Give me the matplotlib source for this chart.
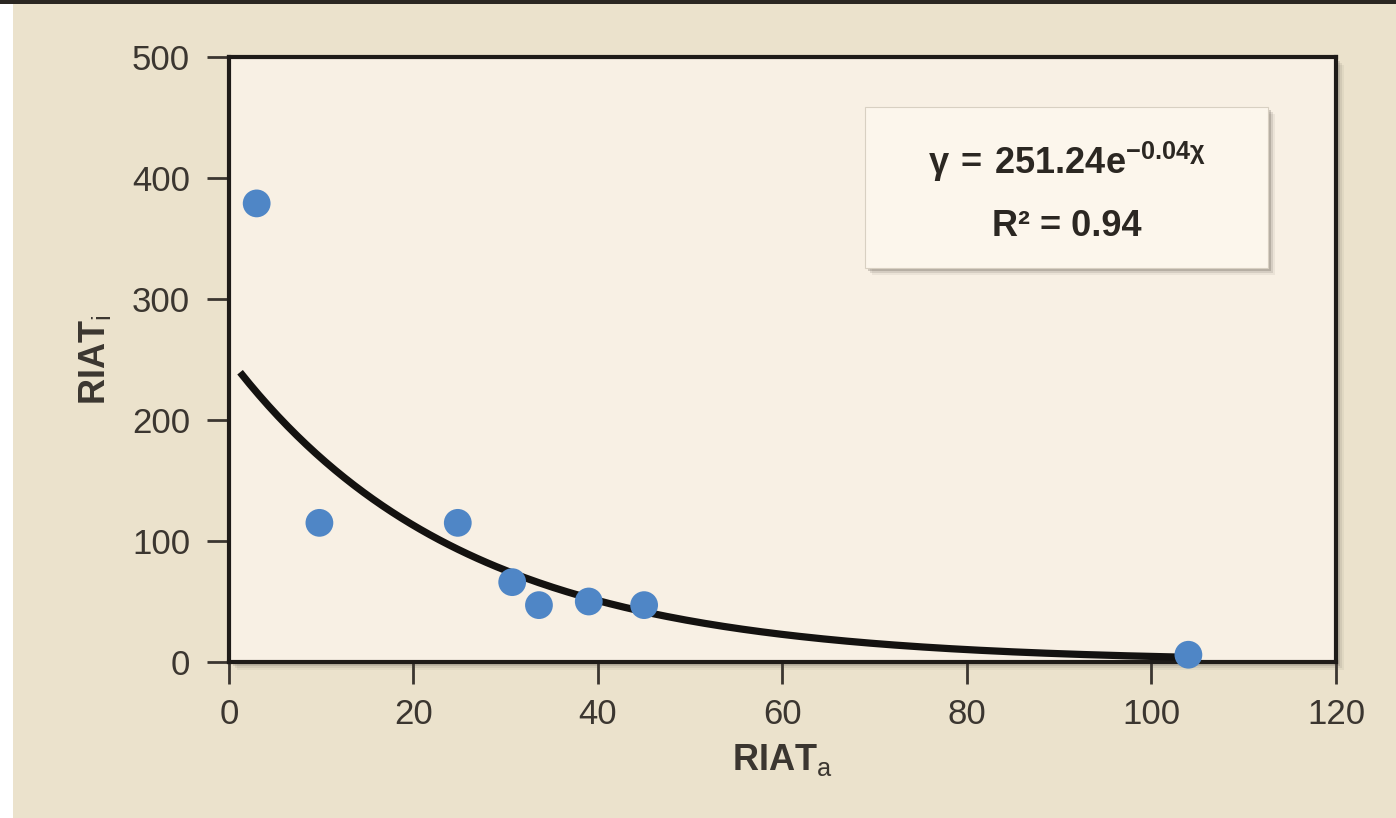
import numpy as np
import matplotlib
matplotlib.use("Agg")
import matplotlib.pyplot as plt
from matplotlib.patches import Rectangle

plt.rcParams['font.family'] = ['Liberation Sans', 'DejaVu Sans']
plt.rcParams['mathtext.fontset'] = 'custom'
plt.rcParams['mathtext.rm'] = 'Liberation Sans'
plt.rcParams['mathtext.it'] = 'Liberation Sans'
plt.rcParams['mathtext.bf'] = 'Liberation Sans:bold'

# data
riat_a = [3.0, 9.8, 24.8, 30.7, 33.6, 39.0, 45.0, 104.0]
riat_i = [379, 115, 115, 66, 47, 50, 47, 6]
# exponential fit shown in the box
fit_a, fit_b = 251.24, -0.04
fit_x0, fit_x1 = 1.2, 103.5

BG = "#ebe2cc"
PLOT_BG = "#f8f0e4"
DOT = "#4f86c6"
TXT = "#3b3630"

fig = plt.figure(figsize=(13.96, 8.18), dpi=100, facecolor=BG)
# white strip on the left and dark rule along the top
fig.patches.append(Rectangle((0, 0), 13/1396, 1, transform=fig.transFigure,
                             facecolor="white", edgecolor="none", zorder=0))
fig.patches.append(Rectangle((0, 1 - 4/818), 1, 4/818, transform=fig.transFigure,
                             facecolor="#2b2722", edgecolor="none", zorder=0))

l, b, r, t = 229/1396, 1 - 662/818, 1336/1396, 1 - 57/818
# frame shadow (sits under the axes)
for k, a in [(8, 0.08), (6, 0.12), (4, 0.2)]:
    fig.patches.append(Rectangle((l + k/1396, b - k/818), r - l, t - b,
                                 transform=fig.transFigure, facecolor="#6b6358",
                                 alpha=a, edgecolor="none", zorder=0.5))

ax = fig.add_axes([l, b, r - l, t - b])
ax.set_zorder(1)
ax.set_facecolor(PLOT_BG)

xs = np.linspace(fit_x0, fit_x1, 200)
ax.plot(xs, fit_a * np.exp(fit_b * xs), color="#141210", lw=5.2,
        solid_capstyle="butt", zorder=3)
ax.scatter(riat_a, riat_i, s=400, color=DOT, edgecolors="none", zorder=4,
           clip_on=False)

ax.set_xlim(0, 120)
ax.set_ylim(0, 500)
ax.set_xticks(range(0, 121, 20))
ax.set_yticks(range(0, 501, 100))
for s in ax.spines.values():
    s.set_linewidth(3)
    s.set_color("#1e1b18")
ax.tick_params(length=16, width=2, color="#3b3630", labelsize=25,
               labelcolor=TXT, pad=10)
ax.tick_params(axis="y", pad=12)

ax.set_xlabel(r"$\mathbf{RIAT}_{\mathrm{a}}$", fontsize=26, color=TXT,
              labelpad=8)
ax.set_ylabel(r"$\mathbf{RIAT}_{\mathrm{i}}$", fontsize=26, color=TXT,
              labelpad=14)

# equation box with shadow
bx0, by0, bx1, by1 = 865/1396, 1 - 268/818, 1268/1396, 1 - 107/818
for k, a in [(7, 0.08), (5, 0.15), (3, 0.25)]:
    fig.patches.append(Rectangle((bx0 + k/1396, by0 - k/818), bx1 - bx0, by1 - by0,
                                 transform=fig.transFigure, facecolor="#5a534a",
                                 alpha=a, edgecolor="none", zorder=5))
fig.patches.append(Rectangle((bx0, by0), bx1 - bx0, by1 - by0,
                             transform=fig.transFigure, facecolor="#fcf6ec",
                             edgecolor="#d8d0c2", lw=0.8, zorder=6))
cx = (bx0 + bx1) / 2
fig.text(cx, 1 - 162/818, r"$\mathbf{γ\:=\:251.24e^{-0.04χ}}$", ha="center",
         va="center", fontsize=26, color="#2b2722", zorder=7)
fig.text(cx, 1 - 227/818, "R² = 0.94", ha="center", va="center",
         fontsize=26, fontweight="bold", color="#2b2722", zorder=7)

fig.savefig("out.png", dpi=100, facecolor=BG)
